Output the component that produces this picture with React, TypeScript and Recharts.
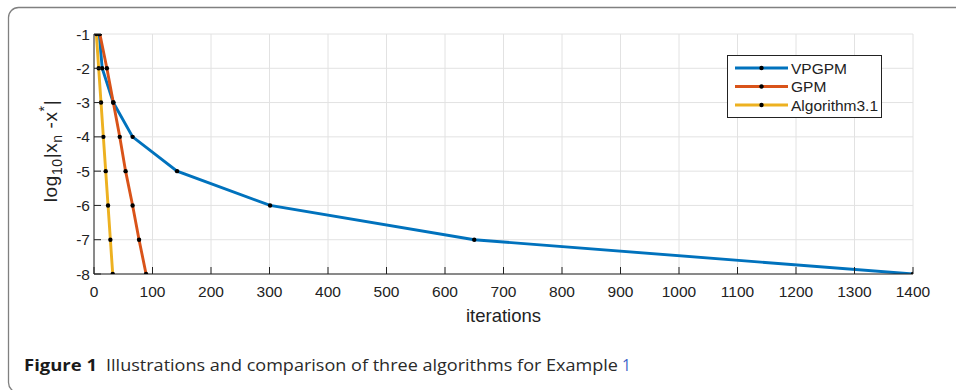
import React from 'react';
import { LineChart, Line, XAxis, YAxis, CartesianGrid, Legend } from 'recharts';

// ---- data ----
const seriesNames = ['VPGPM', 'GPM', 'Algorithm3.1'];
const seriesColors = ['#0072BD', '#D95319', '#EDB120'];
const logErrorLevels = [-1, -2, -3, -4, -5, -6, -7, -8];
const vpgpmIterations = [9, 14, 33, 66, 142, 301, 650, 1400];
const gpmIterations = [10, 22, 33, 44, 54, 66, 77, 89];
const algorithmIterations = [4, 8, 12, 16, 20, 24, 28, 32];
const xTicks = [0, 100, 200, 300, 400, 500, 600, 700, 800, 900, 1000, 1100, 1200, 1300, 1400];
const yTicks = [-8, -7, -6, -5, -4, -3, -2, -1];
const xLabel = 'iterations';
const captionTitle = 'Figure 1';
const captionText = 'Illustrations and comparison of three algorithms for Example';
const captionRef = '1';

const toPoints = (iters: number[]) => iters.map((iter, i) => ({ iter, err: logErrorLevels[i] }));
const seriesData = [toPoints(vpgpmIterations), toPoints(gpmIterations), toPoints(algorithmIterations)];

const FONT = '"Liberation Sans", Arial, Helvetica, sans-serif';
const AXIS = '#222';
const TICK_LEN = 7;
const TICK_FS = 15.5;

const Dot = (p: any) => <circle key={`d-${p.index}-${p.cx}`} cx={p.cx} cy={p.cy} r={2.2} fill="#000" />;

const BottomTick = (p: any) => (
  <g>
    <line x1={p.x} x2={p.x} y1={p.y} y2={p.y - TICK_LEN} stroke={AXIS} strokeWidth={1} />
    <text x={p.x} y={p.y + 23.3} textAnchor="middle" fontSize={TICK_FS} fontFamily={FONT} fill={AXIS}>
      {p.payload.value}
    </text>
  </g>
);
const TopTick = (p: any) => (
  <line x1={p.x} x2={p.x} y1={p.y} y2={p.y + TICK_LEN} stroke={AXIS} strokeWidth={1} />
);
const LeftTick = (p: any) => (
  <g>
    <line x1={p.x} x2={p.x + TICK_LEN} y1={p.y} y2={p.y} stroke={AXIS} strokeWidth={1} />
    <text x={p.x - 4} y={p.y} dy="0.36em" textAnchor="end" fontSize={TICK_FS} fontFamily={FONT} fill={AXIS}>
      {p.payload.value}
    </text>
  </g>
);
const RightTick = (p: any) => (
  <line x1={p.x} x2={p.x - TICK_LEN} y1={p.y} y2={p.y} stroke={AXIS} strokeWidth={1} />
);

const LegendBox = () => (
  <div style={{ width: 155, height: 63, border: '1px solid #222', background: '#fff', boxSizing: 'border-box', position: 'relative' }}>
    <svg width={153} height={61} style={{ position: 'absolute', left: 0, top: 0 }}>
      {seriesNames.map((name, i) => {
        const cy = 12 + i * 18.5;
        return (
          <g key={name}>
            <line x1={7} x2={60} y1={cy} y2={cy} stroke={seriesColors[i]} strokeWidth={2.9} />
            <circle cx={33.5} cy={cy} r={2.2} fill="#000" />
            <text x={63} y={cy} dy="0.36em" fontSize={15.5} fontFamily={FONT} fill={AXIS}>{name}</text>
          </g>
        );
      })}
    </svg>
  </div>
);

const XLabel = (props: any) => {
  const vb = props.viewBox;
  return (
    <text x={vb.x + vb.width / 2} y={vb.y + 48} textAnchor="middle" fontSize={18.5} fontFamily={FONT} fill={AXIS}>
      {xLabel}
    </text>
  );
};

const YLabel = (props: any) => {
  const vb = props.viewBox;
  const cx = vb.x + 57;
  const cy = 151;
  return (
    <text x={cx} y={cy} transform={`rotate(-90, ${cx}, ${cy})`} textAnchor="middle" fontSize={19} letterSpacing={0.6} fontFamily={FONT} fill={AXIS}>
      <tspan>log</tspan>
      <tspan fontSize={14} dy={5}>10</tspan>
      <tspan dy={-5}>|x</tspan>
      <tspan fontSize={14} dy={5}>n</tspan>
      <tspan dy={-5}>{' -x'}</tspan>
      <tspan fontSize={14} dy={-8}>*</tspan>
      <tspan dy={8}>|</tspan>
    </text>
  );
};

export default function App() {
  return (
    <div style={{ position: 'absolute', left: 0, top: 0, width: 956, height: 390, background: '#fff', overflow: 'hidden' }}>
      <svg width={956} height={390} style={{ position: 'absolute', left: 0, top: 0 }}>
        <rect x={8.5} y={7.5} width={1100} height={385} rx={10} ry={10} fill="none" stroke="#808080" strokeWidth={1.3} />
      </svg>
      <div style={{ position: 'absolute', left: 0, top: 0 }}>
        <LineChart width={956} height={390} margin={{ top: 34, right: 43, bottom: 0, left: 0 }}>
          <CartesianGrid xAxisId="b" yAxisId="l" stroke="#e2e2e2" strokeWidth={1} />
          <XAxis
            xAxisId="b"
            dataKey="iter"
            type="number"
            domain={[0, 1400]}
            ticks={xTicks}
            height={116}
            tickSize={0}
            tickMargin={0}
            axisLine={{ stroke: AXIS }}
            tickLine={false}
            tick={BottomTick}
            interval={0}
            label={XLabel}
            allowDataOverflow
          />
          <XAxis
            xAxisId="t"
            orientation="top"
            type="number"
            domain={[0, 1400]}
            ticks={xTicks}
            height={0}
            tickSize={0}
            tickMargin={0}
            axisLine={{ stroke: AXIS }}
            tickLine={false}
            tick={TopTick}
            interval={0}
            allowDataOverflow
          />
          <YAxis
            yAxisId="l"
            type="number"
            domain={[-8, -1]}
            ticks={yTicks}
            width={94}
            tickSize={0}
            tickMargin={0}
            axisLine={{ stroke: AXIS }}
            tickLine={false}
            tick={LeftTick}
            interval={0}
            label={YLabel}
            allowDataOverflow
          />
          <YAxis
            yAxisId="r"
            orientation="right"
            type="number"
            domain={[-8, -1]}
            ticks={yTicks}
            width={0}
            tickSize={0}
            tickMargin={0}
            axisLine={{ stroke: AXIS }}
            tickLine={false}
            tick={RightTick}
            interval={0}
            allowDataOverflow
          />
          {seriesData.map((d, i) => (
            <Line
              key={seriesNames[i]}
              name={seriesNames[i]}
              data={d}
              dataKey="err"
              xAxisId="b"
              yAxisId="l"
              type="linear"
              stroke={seriesColors[i]}
              strokeWidth={2.9}
              dot={Dot}
              activeDot={false}
              isAnimationActive={false}
            />
          ))}
          <Legend
            layout="vertical"
            align="center"
            verticalAlign="middle"
            wrapperStyle={{ left: 727, top: 55, width: 155, height: 63 }}
            content={LegendBox}
          />
        </LineChart>
      </div>
      <svg width={956} height={390} style={{ position: 'absolute', left: 0, top: 0, pointerEvents: 'none' }}>
        <text x={24} y={371} fontSize={15.5} fontWeight={700} fontFamily='"Open Sans", "Noto Sans", sans-serif' fill="#1a1a1a" textLength={73} lengthAdjust="spacingAndGlyphs">{captionTitle}</text>
        <text x={106} y={371} fontSize={15.5} fontFamily='"Open Sans", "Noto Sans", sans-serif' fill="#2a2a2a" textLength={512} lengthAdjust="spacingAndGlyphs">{captionText}</text>
        <text x={622} y={371} fontSize={15.5} fontFamily='"Open Sans", "Noto Sans", sans-serif' fill="#3b63c9">{captionRef}</text>
      </svg>
    </div>
  );
}
